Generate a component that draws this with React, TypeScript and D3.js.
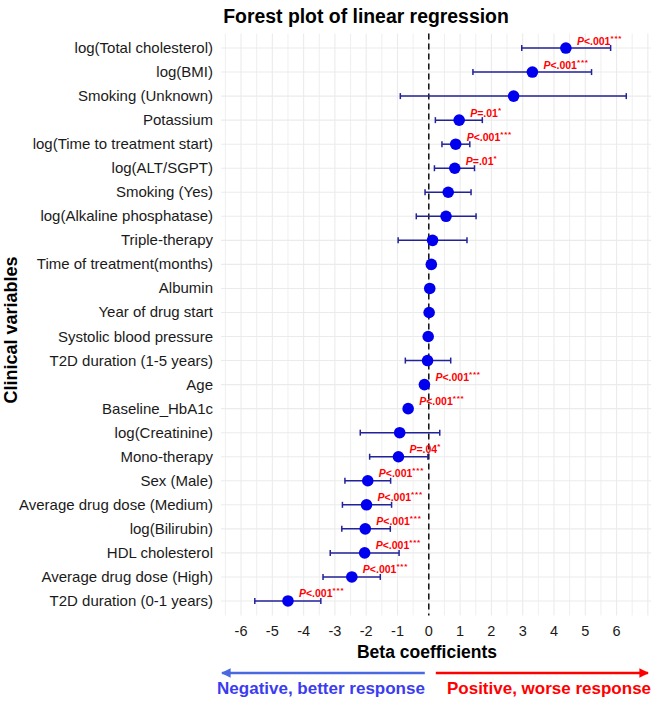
import React from 'react';
import * as d3 from 'd3';

// Regression terms, top to bottom
const variables = [
  'log(Total cholesterol)', 'log(BMI)', 'Smoking (Unknown)', 'Potassium',
  'log(Time to treatment start)', 'log(ALT/SGPT)', 'Smoking (Yes)',
  'log(Alkaline phosphatase)', 'Triple-therapy', 'Time of treatment(months)',
  'Albumin', 'Year of drug start', 'Systolic blood pressure',
  'T2D duration (1-5 years)', 'Age', 'Baseline_HbA1c', 'log(Creatinine)',
  'Mono-therapy', 'Sex (Male)', 'Average drug dose (Medium)', 'log(Bilirubin)',
  'HDL cholesterol', 'Average drug dose (High)', 'T2D duration (0-1 years)',
];
const estimates = [
  4.38, 3.31, 2.71, 0.97, 0.86, 0.83, 0.62, 0.55, 0.12, 0.08, 0.03, 0.01,
  -0.02, -0.04, -0.14, -0.66, -0.93, -0.97, -1.95, -1.99, -2.03, -2.05, -2.46, -4.5,
];
const lower = [
  2.97, 1.41, -0.91, 0.21, 0.42, 0.18, -0.12, -0.4, -0.98, 0.02, -0.02, -0.03,
  -0.06, -0.75, -0.18, -0.72, -2.19, -1.89, -2.68, -2.76, -2.78, -3.15, -3.38, -5.56,
];
const upper = [
  5.81, 5.2, 6.31, 1.71, 1.31, 1.46, 1.35, 1.51, 1.22, 0.14, 0.08, 0.05,
  0.02, 0.7, -0.1, -0.6, 0.35, -0.03, -1.22, -1.19, -1.23, -0.95, -1.55, -3.45,
];
// p-value text and significance stars ('' = not labelled)
const pText = [
  'P<.001', 'P<.001', '', 'P=.01', 'P<.001', 'P=.01', '', '', '', '', '', '',
  '', '', 'P<.001', 'P<.001', '', 'P=.04', 'P<.001', 'P<.001', 'P<.001', 'P<.001', 'P<.001', 'P<.001',
];
const pStars = [
  '***', '***', '', '*', '***', '*', '', '', '', '', '', '',
  '', '', '***', '***', '', '*', '***', '***', '***', '***', '***', '***',
];
const xTicks = [-6, -5, -4, -3, -2, -1, 0, 1, 2, 3, 4, 5, 6];
const xGrid = d3.range(-6.5, 7.01, 0.5);

const W = 672;
const H = 711;
const left = 221;
const right = 651;
const top = 33.6;
const bottom = 615.4;
const font = 'Liberation Sans, Arial, Helvetica, sans-serif';

export default function App() {
  const x = d3.scaleLinear().domain([-6.64, 7.1]).range([left, right]);
  const y = d3.scalePoint<string>().domain(variables).range([top, bottom]).padding(0.6);
  const x0 = x(0);
  const arrowY = 673;

  return (
    <svg width={W} height={H} style={{ position: 'absolute', left: 0, top: 0, fontFamily: font }}>
      <defs>
        <marker id="headBlue" viewBox="0 0 10 10" refX="9" refY="5" markerWidth="4.5" markerHeight="4" orient="auto" markerUnits="strokeWidth">
          <path d="M0,0 L10,5 L0,10 z" fill="#4a68e0" />
        </marker>
        <marker id="headRed" viewBox="0 0 10 10" refX="9" refY="5" markerWidth="4.5" markerHeight="4" orient="auto" markerUnits="strokeWidth">
          <path d="M0,0 L10,5 L0,10 z" fill="#ff0000" />
        </marker>
      </defs>
      <rect width={W} height={H} fill="#fff" />

      {/* grid */}
      {xGrid.map(v => (
        <line key={'gx' + v} x1={x(v)} x2={x(v)} y1={top} y2={bottom}
          stroke="#ebebeb" strokeWidth={Number.isInteger(v) ? 1.1 : 0.8} />
      ))}
      {variables.map(v => (
        <line key={'gy' + v} x1={left} x2={right} y1={y(v)} y2={y(v)} stroke="#ebebeb" strokeWidth={1.1} />
      ))}

      {/* zero reference */}
      <line x1={x0} x2={x0} y1={top} y2={bottom} stroke="#000" strokeWidth={1.4} strokeDasharray="6,4" />

      {/* confidence intervals and estimates */}
      {variables.map((v, i) => {
        const cy = y(v)!;
        return (
          <g key={'row' + i}>
            <line x1={x(lower[i])} x2={x(upper[i])} y1={cy} y2={cy} stroke="#22229a" strokeWidth={1.5} />
            <line x1={x(lower[i])} x2={x(lower[i])} y1={cy - 3} y2={cy + 3} stroke="#22229a" strokeWidth={1.5} />
            <line x1={x(upper[i])} x2={x(upper[i])} y1={cy - 3} y2={cy + 3} stroke="#22229a" strokeWidth={1.5} />
            <circle cx={x(estimates[i])} cy={cy} r={5.8} fill="#0000ee" />
          </g>
        );
      })}

      {/* p-value labels */}
      {variables.map((v, i) => pText[i] && (
        <text key={'p' + i} x={x(estimates[i]) + 11} y={y(v)! - 3.5} fill="#ff0000"
          fontSize={10.5} fontWeight="bold">
          <tspan fontStyle="italic">{pText[i].charAt(0)}</tspan>
          <tspan>{pText[i].slice(1)}</tspan>
          <tspan fontSize={8} dy={-4} letterSpacing={0.8}>{pStars[i]}</tspan>
        </text>
      ))}

      {/* y axis labels */}
      {variables.map(v => (
        <text key={'yl' + v} x={213} y={y(v)! + 5} textAnchor="end" fontSize={15} fill="#1a1a1a">{v}</text>
      ))}

      {/* x axis ticks */}
      {xTicks.map(t => (
        <text key={'xt' + t} x={x(t)} y={636} textAnchor="middle" fontSize={14.5} fill="#1a1a1a">{t}</text>
      ))}

      <text x={366} y={23} textAnchor="middle" fontSize={19.4} fontWeight="bold">Forest plot of linear regression</text>
      <text x={427} y={658} textAnchor="middle" fontSize={17.5} fontWeight="bold">Beta coefficients</text>
      <text transform={`translate(17,330) rotate(-90)`} textAnchor="middle" fontSize={18} fontWeight="bold">Clinical variables</text>

      {/* direction arrows */}
      <line x1={x0 - 4} x2={222} y1={arrowY} y2={arrowY} stroke="#4a68e0" strokeWidth={2.4} markerEnd="url(#headBlue)" />
      <line x1={x0 + 7} x2={648} y1={arrowY} y2={arrowY} stroke="#ff0000" strokeWidth={2.4} markerEnd="url(#headRed)" />
      <text x={321} y={694} textAnchor="middle" fontSize={17} fontWeight="bold" fill="#3b3bf0">Negative, better response</text>
      <text x={549} y={694} textAnchor="middle" fontSize={17} fontWeight="bold" fill="#ff0000">Positive, worse response</text>
    </svg>
  );
}
